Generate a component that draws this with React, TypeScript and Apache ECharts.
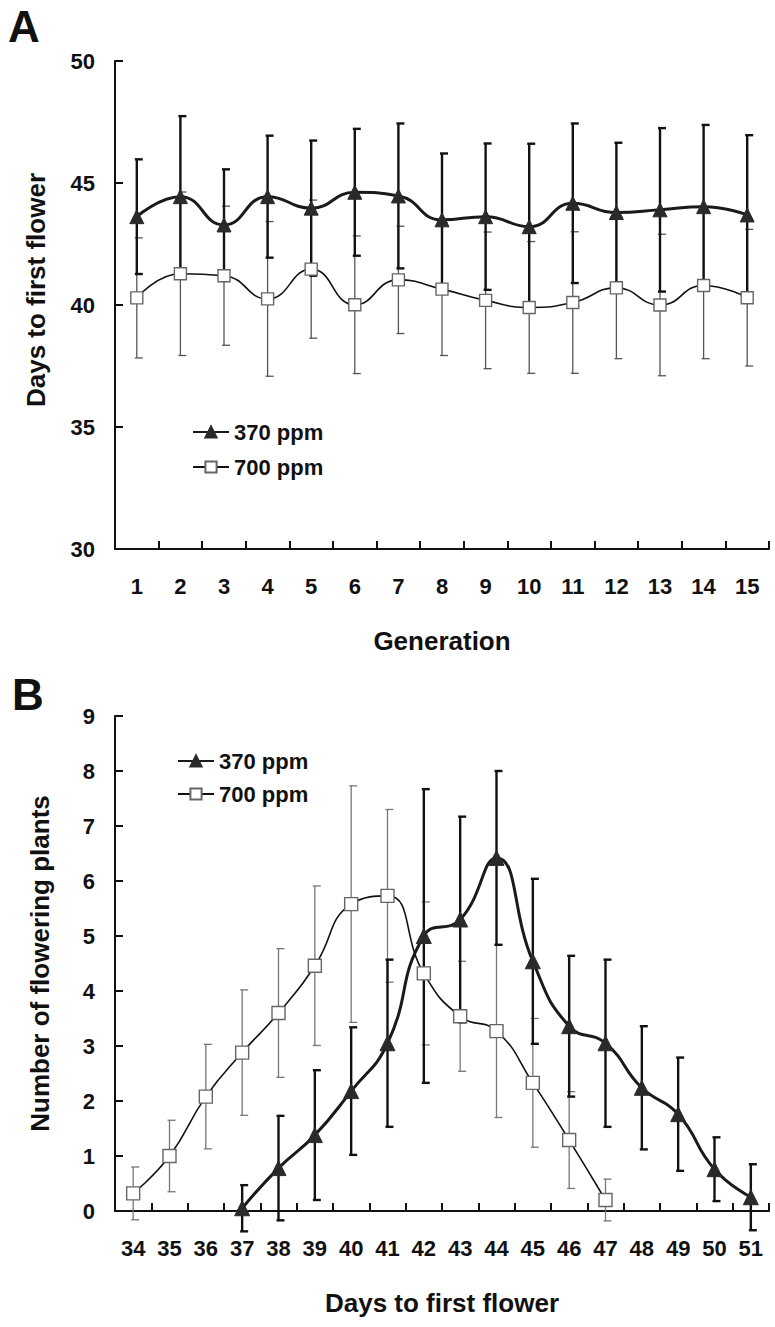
import React, { useEffect, useRef } from "react";
import * as echarts from "echarts";

// ---------- Panel A data ----------
const generations = ["1", "2", "3", "4", "5", "6", "7", "8", "9", "10", "11", "12", "13", "14", "15"];
const genMean370 = [43.62, 44.44, 43.28, 44.44, 43.97, 44.62, 44.47, 43.49, 43.62, 43.21, 44.17, 43.79, 43.9, 44.03, 43.69];
const genSd370 = [2.35, 3.3, 2.28, 2.5, 2.77, 2.6, 2.97, 2.72, 3.0, 3.4, 3.27, 2.86, 3.35, 3.35, 3.27];
const genMean700 = [40.29, 41.28, 41.2, 40.25, 41.47, 40.01, 41.03, 40.65, 40.19, 39.9, 40.1, 40.7, 40.0, 40.8, 40.3];
const genSd700 = [2.46, 3.35, 2.85, 3.17, 2.83, 2.82, 2.2, 2.72, 2.8, 2.7, 2.9, 2.9, 2.9, 3.0, 2.8];
const yTicksA = [30, 35, 40, 45, 50];

// ---------- Panel B data ----------
const days = ["34", "35", "36", "37", "38", "39", "40", "41", "42", "43", "44", "45", "46", "47", "48", "49", "50", "51"];
const dayMean370 = [null, null, null, 0.05, 0.78, 1.38, 2.18, 3.05, 5.0, 5.3, 6.42, 4.54, 3.36, 3.05, 2.24, 1.76, 0.76, 0.25];
const daySd370 = [null, null, null, 0.42, 0.95, 1.18, 1.16, 1.52, 2.67, 1.87, 1.58, 1.5, 1.28, 1.52, 1.12, 1.03, 0.58, 0.6];
const dayMean700 = [0.32, 1.0, 2.08, 2.88, 3.6, 4.46, 5.58, 5.73, 4.32, 3.54, 3.27, 2.33, 1.29, 0.2, null, null, null, null];
const daySd700 = [0.48, 0.65, 0.95, 1.14, 1.17, 1.45, 2.15, 1.57, 1.3, 1.0, 1.57, 1.17, 0.88, 0.38, null, null, null, null];
const yTicksB = [0, 1, 2, 3, 4, 5, 6, 7, 8, 9];

const seriesNames = ["370 ppm", "700 ppm"];

const FONT = "'Liberation Sans', Arial, Helvetica, sans-serif";

function errData(mean: (number | null)[], sd: (number | null)[]) {
  const out: number[][] = [];
  mean.forEach((m, i) => {
    const s = sd[i];
    if (m !== null && s !== null) out.push([i, m, s]);
  });
  return out;
}

function errRenderer(color: string, width: number, capL: number, capR: number) {
  return (_params: any, api: any) => {
    const x = api.value(0);
    const m = api.value(1);
    const s = api.value(2);
    const top = api.coord([x, m + s]);
    const bot = api.coord([x, m - s]);
    const style = { stroke: color, lineWidth: width, fill: "none" };
    return {
      type: "group",
      children: [
        { type: "line", shape: { x1: top[0], y1: top[1], x2: bot[0], y2: bot[1] }, style },
        { type: "line", shape: { x1: top[0] - capL, y1: top[1], x2: top[0] + capR, y2: top[1] }, style },
        { type: "line", shape: { x1: bot[0] - capL, y1: bot[1], x2: bot[0] + capR, y2: bot[1] }, style },
      ],
    };
  };
}

const axisLine = { show: true, lineStyle: { color: "#111", width: 2 } };
const axisTick = { show: true, inside: true, length: 8, lineStyle: { color: "#111", width: 2 } };
const tickLabel = { color: "#111", fontSize: 22, fontWeight: "bold" as const, fontFamily: FONT };
const nameStyle = { color: "#111", fontSize: 26, fontWeight: "bold" as const, fontFamily: FONT };
const legendText = { fontSize: 22, fontWeight: "bold" as const, color: "#111", fontFamily: FONT };

export default function App() {
  const ref = useRef<HTMLDivElement>(null);

  useEffect(() => {
    if (!ref.current) return;
    const chart = echarts.init(ref.current, undefined, { renderer: "svg" });

    const option: any = {
      animation: false,
      backgroundColor: "#fff",
      textStyle: { fontFamily: FONT },
      graphic: [
        { type: "text", left: 8, top: 4, style: { text: "A", fontSize: 44, fontWeight: "bold", fill: "#111", fontFamily: FONT } },
        { type: "text", left: 12, top: 672, style: { text: "B", fontSize: 44, fontWeight: "bold", fill: "#111", fontFamily: FONT } },
      ],
      legend: [
        {
          data: seriesNames,
          orient: "vertical",
          left: 187,
          top: 416,
          itemGap: 13,
          itemWidth: 36,
          itemHeight: 14,
          selectedMode: false,
          textStyle: legendText,
        },
        {
          data: seriesNames,
          orient: "vertical",
          left: 172,
          top: 745,
          itemGap: 11,
          itemWidth: 36,
          itemHeight: 14,
          selectedMode: false,
          textStyle: legendText,
        },
      ],
      grid: [
        { left: 115, top: 61, width: 654, height: 488 },
        { left: 115, top: 716, width: 654, height: 495 },
      ],
      xAxis: [
        {
          type: "category",
          gridIndex: 0,
          data: generations,
          boundaryGap: true,
          axisLine,
          axisTick,
          axisLabel: { ...tickLabel, margin: 26 },
          name: "Generation",
          nameLocation: "middle",
          nameGap: 79,
          nameTextStyle: nameStyle,
          splitLine: { show: false },
        },
        {
          type: "category",
          gridIndex: 1,
          data: days,
          boundaryGap: true,
          axisLine,
          axisTick,
          axisLabel: { ...tickLabel, margin: 26, interval: 0 },
          name: "Days to first flower",
          nameLocation: "middle",
          nameGap: 79,
          nameTextStyle: nameStyle,
          splitLine: { show: false },
        },
      ],
      yAxis: [
        {
          type: "value",
          gridIndex: 0,
          min: yTicksA[0],
          max: yTicksA[yTicksA.length - 1],
          interval: yTicksA[1] - yTicksA[0],
          axisLine,
          axisTick,
          axisLabel: { ...tickLabel, margin: 20 },
          splitLine: { show: false },
          name: "Days to first flower",
          nameLocation: "middle",
          nameGap: 66,
          nameTextStyle: { ...nameStyle, padding: [0, 0, 0, 30] },
        },
        {
          type: "value",
          gridIndex: 1,
          min: yTicksB[0],
          max: yTicksB[yTicksB.length - 1],
          interval: yTicksB[1] - yTicksB[0],
          axisLine,
          axisTick,
          axisLabel: { ...tickLabel, margin: 20 },
          splitLine: { show: false },
          name: "Number of flowering plants",
          nameLocation: "middle",
          nameGap: 62,
          nameTextStyle: nameStyle,
        },
      ],
      series: [
        // Panel A
        {
          type: "custom",
          name: "err700A",
          xAxisIndex: 0,
          yAxisIndex: 0,
          silent: true,
          z: 1,
          encode: { x: 0, y: 1 },
          data: errData(genMean700, genSd700),
          renderItem: errRenderer("#555", 1.3, 2, 6),
        },
        {
          type: "custom",
          name: "err370A",
          xAxisIndex: 0,
          yAxisIndex: 0,
          silent: true,
          z: 2,
          encode: { x: 0, y: 1 },
          data: errData(genMean370, genSd370),
          renderItem: errRenderer("#111", 2.4, 2, 6),
        },
        {
          type: "line",
          name: seriesNames[0],
          xAxisIndex: 0,
          yAxisIndex: 0,
          data: genMean370,
          smooth: true,
          z: 4,
          symbol: "triangle",
          symbolSize: 14,
          lineStyle: { color: "#1a1a1a", width: 3 },
          itemStyle: { color: "#2a2a2a", borderColor: "#2a2a2a", borderWidth: 1 },
        },
        {
          type: "line",
          name: seriesNames[1],
          xAxisIndex: 0,
          yAxisIndex: 0,
          data: genMean700,
          smooth: true,
          z: 3,
          symbol: "rect",
          symbolSize: 12,
          lineStyle: { color: "#111", width: 1.6 },
          itemStyle: { color: "#fff", borderColor: "#666", borderWidth: 1.4 },
        },
        // Panel B
        {
          type: "custom",
          name: "err700B",
          xAxisIndex: 1,
          yAxisIndex: 1,
          silent: true,
          z: 1,
          encode: { x: 0, y: 1 },
          data: errData(dayMean700, daySd700),
          renderItem: errRenderer("#777", 1.3, 2, 6),
        },
        {
          type: "custom",
          name: "err370B",
          xAxisIndex: 1,
          yAxisIndex: 1,
          silent: true,
          z: 2,
          encode: { x: 0, y: 1 },
          data: errData(dayMean370, daySd370),
          renderItem: errRenderer("#111", 2.4, 2, 6),
        },
        {
          type: "line",
          name: seriesNames[0],
          xAxisIndex: 1,
          yAxisIndex: 1,
          data: dayMean370,
          smooth: true,
          connectNulls: false,
          z: 4,
          symbol: "triangle",
          symbolSize: 15,
          lineStyle: { color: "#1a1a1a", width: 3 },
          itemStyle: { color: "#2a2a2a", borderColor: "#2a2a2a", borderWidth: 1 },
        },
        {
          type: "line",
          name: seriesNames[1],
          xAxisIndex: 1,
          yAxisIndex: 1,
          data: dayMean700,
          smooth: true,
          connectNulls: false,
          z: 3,
          symbol: "rect",
          symbolSize: 13,
          lineStyle: { color: "#111", width: 1.6 },
          itemStyle: { color: "#fff", borderColor: "#666", borderWidth: 1.4 },
        },
      ],
    };

    chart.setOption(option);
    return () => {
      chart.dispose();
    };
  }, []);

  return (
    <div
      ref={ref}
      style={{ position: "absolute", left: 0, top: 0, width: 775, height: 1327, background: "#fff" }}
    />
  );
}
